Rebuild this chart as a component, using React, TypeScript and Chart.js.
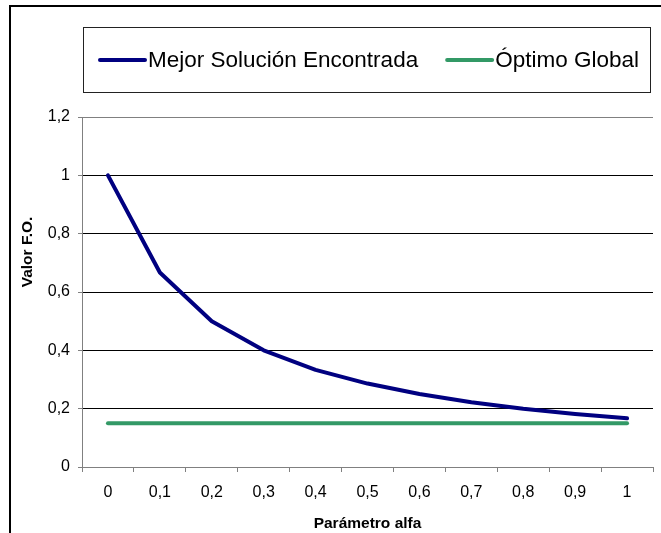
import React, { useEffect, useRef } from "react";
import { Chart, registerables } from "chart.js";

Chart.register(...registerables);

const categories = ["0", "0,1", "0,2", "0,3", "0,4", "0,5", "0,6", "0,7", "0,8", "0,9", "1"];
const mejorSolucion = [1.0, 0.667, 0.5, 0.4, 0.333, 0.286, 0.25, 0.222, 0.2, 0.182, 0.167];
const optimoGlobal = [0.15, 0.15, 0.15, 0.15, 0.15, 0.15, 0.15, 0.15, 0.15, 0.15, 0.15];
const seriesNames = ["Mejor Solución Encontrada", "Óptimo Global"];
const yMin = 0;
const yMax = 1.2;
const yStep = 0.2;
const xTitle = "Parámetro alfa";
const yTitle = "Valor F.O.";

const FONT = '"Liberation Sans", Arial, sans-serif';

const fmt = (v: number) => String(Math.round(v * 10) / 10).replace(".", ",");

const legendPlugin = {
  id: "boxLegend",
  afterDraw(chart: any) {
    const ctx = chart.ctx;
    ctx.save();
    ctx.strokeStyle = "#222";
    ctx.lineWidth = 1;
    ctx.strokeRect(83.5, 27.5, 567, 65);
    ctx.font = `22.5px ${FONT}`;
    ctx.textBaseline = "middle";
    ctx.textAlign = "left";
    let x = 100;
    const y = 60;
    chart.data.datasets.forEach((ds: any) => {
      ctx.strokeStyle = ds.borderColor;
      ctx.lineWidth = 4;
      ctx.lineCap = "round";
      ctx.beginPath();
      ctx.moveTo(x, y);
      ctx.lineTo(x + 45, y);
      ctx.stroke();
      ctx.fillStyle = "#000";
      ctx.fillText(ds.label, x + 48, y + 1);
      x += 48 + ctx.measureText(ds.label).width + 29;
    });
    ctx.restore();
  },
};

const yTitlePlugin = {
  id: "yTitleFree",
  afterDraw(chart: any) {
    const ctx = chart.ctx;
    ctx.save();
    ctx.translate(28, 252);
    ctx.rotate(-Math.PI / 2);
    ctx.font = `bold 15.5px ${FONT}`;
    ctx.fillStyle = "#000";
    ctx.textAlign = "center";
    ctx.textBaseline = "middle";
    ctx.fillText(yTitle, 0, 0);
    ctx.restore();
  },
};

export default function App() {
  const ref = useRef<HTMLCanvasElement>(null);
  useEffect(() => {
    if (!ref.current) return;
    const chart = new Chart(ref.current, {
      type: "line",
      data: {
        labels: categories,
        datasets: [
          {
            label: seriesNames[0],
            data: mejorSolucion,
            borderColor: "#000080",
            backgroundColor: "#000080",
            borderWidth: 4,
            pointRadius: 0,
            tension: 0,
            borderCapStyle: "round",
            borderJoinStyle: "round",
          },
          {
            label: seriesNames[1],
            data: optimoGlobal,
            borderColor: "#339966",
            backgroundColor: "#339966",
            borderWidth: 4,
            pointRadius: 0,
            tension: 0,
            borderCapStyle: "round",
          },
        ],
      },
      options: {
        animation: false,
        responsive: false,
        maintainAspectRatio: false,
        layout: { padding: { top: 117, right: 8, left: 0, bottom: 0 } },
        plugins: {
          legend: { display: false },
          tooltip: { enabled: false },
        },
        scales: {
          x: {
            type: "category",
            offset: true,
            grid: {
              offset: true,
              drawOnChartArea: false,
              drawTicks: true,
              tickLength: 5,
              color: "#808080",
            },
            border: { color: "#808080", width: 1 },
            ticks: {
              color: "#000",
              font: { family: FONT, size: 16 },
              padding: 11,
              maxRotation: 0,
              autoSkip: false,
            },
            title: {
              display: true,
              text: xTitle,
              color: "#000",
              font: { family: FONT, size: 15.5, weight: "bold" },
              padding: { top: 1, bottom: 0 },
            },
            afterFit: (s: any) => {
              s.height = 66;
            },
          },
          y: {
            min: yMin,
            max: yMax,
            grid: {
              color: (c: any) => (c.tick && Math.abs(c.tick.value - yMax) < 1e-6 ? "#808080" : "#000"),
              tickColor: "#808080",
              tickLength: 4,
              lineWidth: 1,
            },
            border: { color: "#808080", width: 1 },
            ticks: {
              stepSize: yStep,
              color: "#000",
              font: { family: FONT, size: 16 },
              padding: 8,
              callback: (v: any) => fmt(Number(v)),
            },
            afterFit: (s: any) => {
              s.width = 82;
            },
          },
        },
      },
      plugins: [legendPlugin, yTitlePlugin],
    });
    return () => chart.destroy();
  }, []);

  return (
    <div
      style={{
        position: "fixed",
        left: 0,
        top: 0,
        width: 661,
        height: 533,
        overflow: "hidden",
        background: "#fff",
      }}
    >
      <div
        style={{
          position: "absolute",
          left: 9,
          top: 5,
          width: 800,
          height: 800,
          border: "2px solid #000",
        }}
      />
      <canvas
        ref={ref}
        width={661}
        height={533}
        style={{ position: "absolute", left: 0, top: 0, width: 661, height: 533 }}
      />
    </div>
  );
}
